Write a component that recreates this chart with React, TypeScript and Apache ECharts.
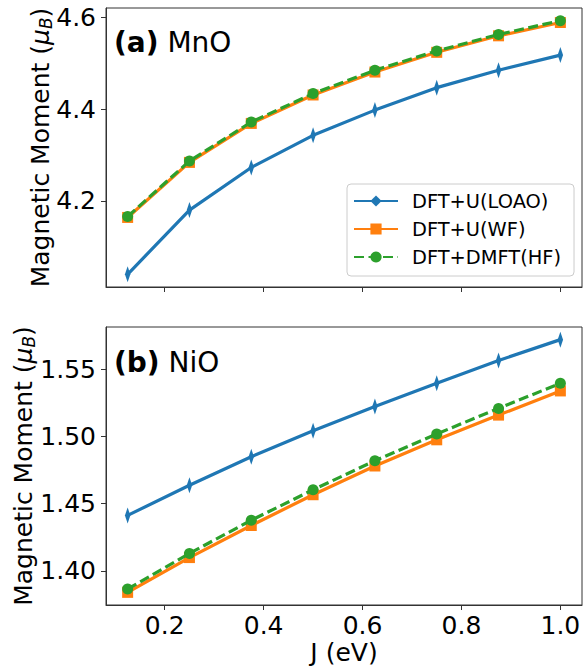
import React, { useEffect, useRef } from "react";
import * as echarts from "echarts";

const J = [0.125, 0.25, 0.375, 0.5, 0.625, 0.75, 0.875, 1.0];
const mnoLOAO = [4.04, 4.18, 4.273, 4.343, 4.398, 4.447, 4.485, 4.518];
const mnoWF = [4.164, 4.284, 4.369, 4.431, 4.481, 4.524, 4.56, 4.589];
const mnoHF = [4.166, 4.287, 4.372, 4.434, 4.485, 4.527, 4.563, 4.593];
const nioLOAO = [1.4413, 1.4638, 1.485, 1.5044, 1.5224, 1.5397, 1.5567, 1.5722];
const nioWF = [1.384, 1.4099, 1.4338, 1.4567, 1.4781, 1.4976, 1.516, 1.534];
const nioHF = [1.3865, 1.413, 1.4377, 1.4604, 1.482, 1.502, 1.521, 1.5397];

const seriesNames = ["DFT+U(LOAO)", "DFT+U(WF)", "DFT+DMFT(HF)"];
const xTicks = [0.2, 0.4, 0.6, 0.8, 1.0];
const mnoTicks = [4.2, 4.4, 4.6];
const nioTicks = [1.4, 1.45, 1.5, 1.55];

const FONT = "DejaVu Sans";
const C_BLUE = "#1f77b4";
const C_ORANGE = "#ff7f0e";
const C_GREEN = "#2ca02c";
const FRAME = "#333333";
const THIN_DIAMOND = "path://M0,-10 L6,0 L0,10 L-6,0 Z";
const TICK_FS = 25;
const LW = 3.2;

function range(arrs: number[][]) {
  const all = arrs.flat();
  const lo = Math.min(...all);
  const hi = Math.max(...all);
  const pad = 0.05 * (hi - lo);
  return [lo - pad, hi + pad];
}

export default function App() {
  const ref = useRef<HTMLDivElement>(null);
  useEffect(() => {
    document.body.style.margin = "0";
    if (!ref.current) return;
    const chart = echarts.init(ref.current, null, { renderer: "svg" });
    const [xmin, xmax] = range([J]);
    const [amin, amax] = range([mnoLOAO, mnoWF, mnoHF]);
    const [bmin, bmax] = range([nioLOAO, nioWF, nioHF]);

    const yName = "Magnetic Moment ({mu|μ}{sub|B})";
    const nameStyle = {
      fontFamily: FONT,
      fontSize: 25,
      color: "#000",
      lineHeight: 28,
      rich: {
        mu: { fontFamily: FONT, fontSize: 25, fontStyle: "italic", lineHeight: 28, color: "#000" },
        sub: { fontFamily: FONT, fontSize: 17, fontStyle: "italic", lineHeight: 8, verticalAlign: "bottom", color: "#000" },
      },
    };

    const mkX = (idx: number, showLabels: boolean) => ({
      type: "value",
      gridIndex: idx,
      min: xmin,
      max: xmax,
      splitLine: { show: false },
      axisLine: { show: true, lineStyle: { color: FRAME, width: 1 } },
      axisTick: { show: true, length: 5, inside: false, customValues: xTicks, lineStyle: { color: FRAME } },
      axisLabel: {
        show: showLabels,
        customValues: xTicks,
        formatter: (v: number) => v.toFixed(1),
        fontFamily: FONT,
        fontSize: TICK_FS,
        color: "#000",
        margin: 8,
      },
      name: showLabels ? "J (eV)" : "",
      nameLocation: "middle",
      nameGap: 35,
      nameMoveOverlap: false,
      nameTextStyle: { fontFamily: FONT, fontSize: 25, color: "#000" },
    });

    const mkY = (idx: number, min: number, max: number, ticks: number[], dec: number, gap: number) => ({
      type: "value",
      gridIndex: idx,
      min,
      max,
      splitLine: { show: false },
      axisLine: { show: true, lineStyle: { color: FRAME, width: 1 } },
      axisTick: { show: true, length: 5, inside: false, customValues: ticks, lineStyle: { color: FRAME } },
      axisLabel: {
        customValues: ticks,
        formatter: (v: number) => v.toFixed(dec),
        fontFamily: FONT,
        fontSize: TICK_FS,
        color: "#000",
        margin: 10,
      },
      name: yName,
      nameLocation: "middle",
      nameRotate: 90,
      nameGap: gap,
      nameMoveOverlap: false,
      nameTextStyle: nameStyle,
    });

    const pairs = (ys: number[]) => J.map((x, i) => [x, ys[i]]);
    const mkSeries = (idx: number, data: number[][]) => [
      {
        name: seriesNames[0],
        type: "line",
        xAxisIndex: idx,
        yAxisIndex: idx,
        data: pairs(data[0]),
        symbol: THIN_DIAMOND,
        symbolSize: [9, 16],
        symbolKeepAspect: true,
        itemStyle: { color: C_BLUE },
        lineStyle: { color: C_BLUE, width: LW },
        z: 2,
      },
      {
        name: seriesNames[1],
        type: "line",
        xAxisIndex: idx,
        yAxisIndex: idx,
        data: pairs(data[1]),
        symbol: "rect",
        symbolSize: 11,
        itemStyle: { color: C_ORANGE },
        lineStyle: { color: C_ORANGE, width: LW },
        z: 3,
      },
      {
        name: seriesNames[2],
        type: "line",
        xAxisIndex: idx,
        yAxisIndex: idx,
        data: pairs(data[2]),
        symbol: "circle",
        symbolSize: 11,
        itemStyle: { color: C_GREEN },
        lineStyle: { color: C_GREEN, width: LW, type: [10, 4.5] },
        z: 4,
      },
    ];

    const titleText = (label: string, mat: string) => ({
      text: `{b|${label}} ${mat}`,
      fontFamily: FONT,
      fontSize: 28,
      fill: "#000",
      verticalAlign: "middle",
      rich: { b: { fontFamily: FONT, fontSize: 28, fontWeight: "bold", fill: "#000" } },
    });

    const option = {
      animation: false,
      backgroundColor: "#fff",
      grid: [
        { left: 106, top: 8, right: 5, height: 279, show: true, borderColor: FRAME, borderWidth: 1, backgroundColor: "transparent" },
        { left: 106, top: 327, right: 5, height: 278, show: true, borderColor: FRAME, borderWidth: 1, backgroundColor: "transparent" },
      ],
      xAxis: [mkX(0, false), mkX(1, true)],
      yAxis: [mkY(0, amin, amax, mnoTicks, 1, 52), mkY(1, bmin, bmax, nioTicks, 2, 69)],
      legend: {
        show: true,
        orient: "vertical",
        left: 347,
        top: 184,
        data: seriesNames,
        itemWidth: 44,
        itemHeight: 14,
        itemGap: 8,
        padding: [7, 13, 9, 6],
        backgroundColor: "rgba(255,255,255,0.8)",
        borderColor: "#cccccc",
        borderWidth: 1,
        borderRadius: 4,
        textStyle: { fontFamily: FONT, fontSize: 19.4, color: "#000", lineHeight: 20, padding: [0, 0, 0, 9] },
      },
      graphic: [
        { type: "text", x: 114, y: 42, style: titleText("(a)", "MnO") },
        { type: "text", x: 114, y: 362, style: titleText("(b)", "NiO") },
      ],
      series: [
        ...mkSeries(0, [mnoLOAO, mnoWF, mnoHF]),
        ...mkSeries(1, [nioLOAO, nioWF, nioHF]),
      ],
    };
    chart.setOption(option as any);
    return () => chart.dispose();
  }, []);
  return <div ref={ref} style={{ width: 587, height: 667 }} />;
}
